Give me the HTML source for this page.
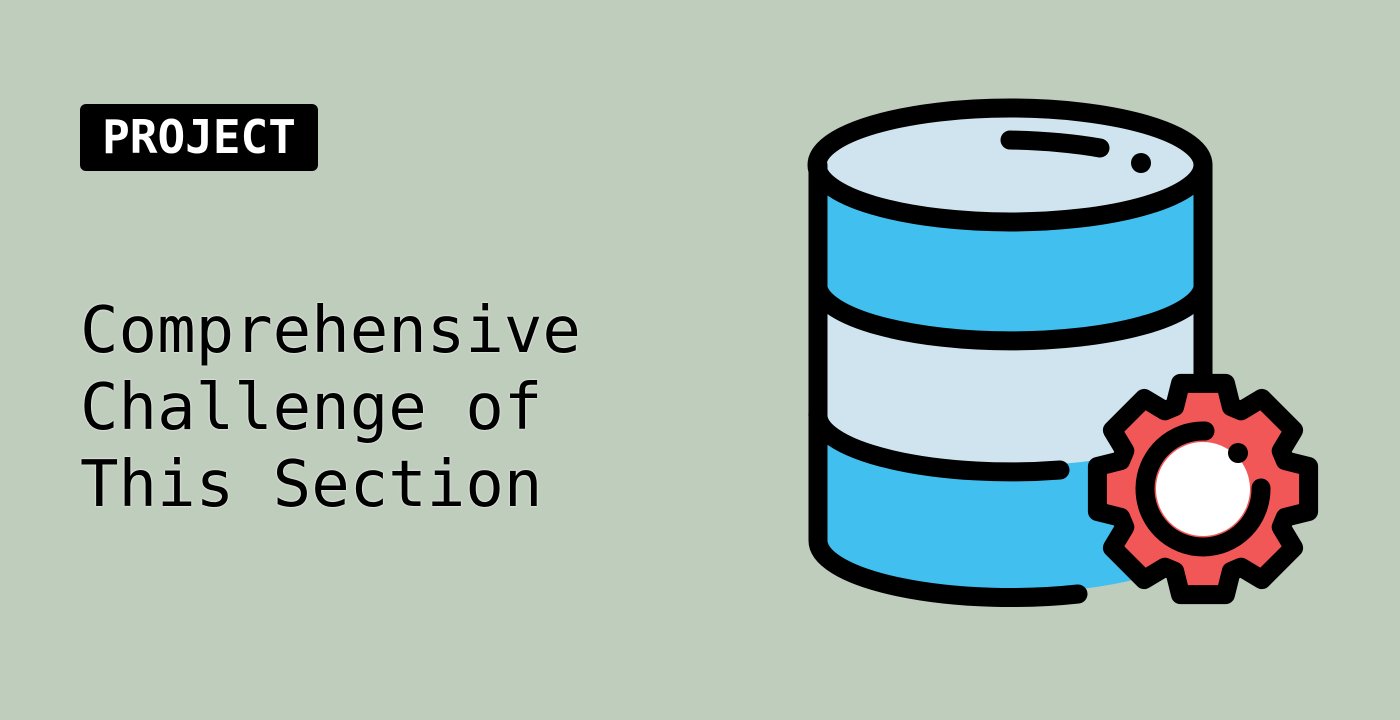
<!DOCTYPE html>
<html><head><meta charset="utf-8"><style>
html,body{margin:0;padding:0}
body{width:1400px;height:720px;background:#bfcdbc;position:relative;overflow:hidden;font-family:"DejaVu Sans Mono","Liberation Mono",monospace}
.tag{position:absolute;left:80px;top:104px;width:238px;height:67px;background:#000;border-radius:6px;color:#fff;font-weight:bold;font-size:46px;line-height:67px;text-align:center}
.title{position:absolute;left:80px;top:293px;font-size:64px;line-height:77px;color:#000;white-space:pre;text-shadow:0 0 2px #fff}
svg{position:absolute;left:0;top:0}
</style></head><body>
<div class="tag">PROJECT</div>
<div class="title">Comprehensive
Challenge of
This Section</div>
<svg width="1400" height="720" viewBox="0 0 1400 720">
<g stroke="#000" stroke-width="19" stroke-linecap="round" stroke-linejoin="round">
<path d="M818,165 L818,540 A193,57 0 0 0 1203,540 L1203,165 Z" fill="#41bfef" stroke="none"/>
<path d="M818,288 A193,57 0 0 0 1203,288 L1203,413 A193,57 0 0 1 818,413 Z" fill="#cfe4ee" stroke="none"/>
<ellipse cx="1010" cy="165" rx="193" ry="57" fill="#cfe4ee"/>
<path d="M818,165 L818,540 A193,57 0 0 0 1078,594" fill="none"/>
<path d="M1203,165 L1203,400" fill="none"/>
<path d="M818,288 A193,57 0 0 0 1203,288" fill="none"/>
<path d="M818,413 A193,57 0 0 0 1060,470" fill="none"/>
<path d="M1010,140 Q1060,141 1100,148" fill="none"/>
<circle cx="1141" cy="163" r="10" fill="#000" stroke="none"/>
<polygon id="gear" fill="#f25757" points=""/>
<circle cx="1203" cy="489" r="47" fill="#fff" stroke="none"/>
<path d="M1205,431 A58,58 0 1 0 1261,488" fill="none"/>
<circle cx="1238" cy="453" r="10" fill="#000" stroke="none"/>
</g>
</svg>
<script>
var cx=1203,cy=489,pts=[];
for(var k=0;k<8;k++){var t=k*45-90;
[[t-19,87],[t-12,108],[t+12,108],[t+19,87]].forEach(function(p){var a=p[0]*Math.PI/180;pts.push((cx+p[1]*Math.cos(a)).toFixed(1)+","+(cy+p[1]*Math.sin(a)).toFixed(1));});}
document.getElementById("gear").setAttribute("points",pts.join(" "));
</script>
</body></html>
